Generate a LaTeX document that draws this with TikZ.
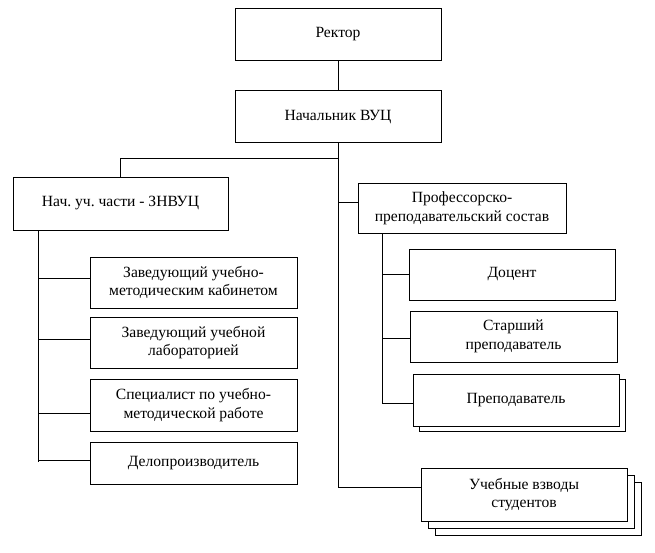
\documentclass[tikz,border=0pt]{standalone}
\usepackage{fontspec}
\setmainfont{Liberation Serif}
\usetikzlibrary{positioning,shadows}
\tikzset{
  unit/.style={draw, fill=white, line width=0.9pt, minimum width=206pt, minimum height=51pt,
               align=center, inner sep=2pt, font=\rmfamily\frenchspacing\fontsize{15.6}{18.5}\selectfont},
  stack/.style={unit, copy shadow={shadow xshift=6pt, shadow yshift=-5.5pt, line width=0.9pt}},
  stack2/.style={unit, copy shadow={shadow xshift=14.5pt, shadow yshift=-14.5pt, line width=0.9pt},
                 copy shadow={shadow xshift=7pt, shadow yshift=-7pt, line width=0.9pt}},
  ln/.style={line width=0.9pt},
}
\begin{document}
\begin{tikzpicture}[x=1pt,y=1pt]
  \useasboundingbox (0,0) rectangle (655,-553);
  \node[unit,minimum height=52pt](rector) at (338,-34){Ректор};
  \node[unit,minimum height=52pt,below=30pt of rector](nach){Начальник ВУЦ};
  \node[unit,minimum width=215pt,minimum height=53pt](znvuc) at (120.5,-203.5){Нач. уч. части - ЗНВУЦ};
  \node[unit,minimum width=208pt,minimum height=50pt](pps) at (462,-208){Профессорско-\\преподавательский состав};
  % left column
  \node[unit,minimum width=207pt](z1) at (193.5,-282.5){Заведующий учебно-\\методическим кабинетом};
  \node[unit,minimum width=207pt](z2) at (193.5,-342.5){Заведующий учебной\\лабораторией};
  \node[unit,minimum width=207pt,minimum height=52pt](z3) at (193.5,-405){Специалист по учебно-\\методической работе};
  \node[unit,minimum width=207pt,minimum height=42pt](z4) at (193.5,-463){Делопроизводитель};
  % right column
  \node[unit](docent) at (512,-274.5){Доцент};
  \node[unit,minimum width=207pt](starsh) at (513.5,-336.5){Старший\\преподаватель};
  \node[stack,minimum height=52pt](prep) at (516,-400){Преподаватель};
  \node[stack2,minimum height=53pt](vzvod) at (524,-494.5){Учебные взводы\\студентов};
  \draw[ln](rector)--(nach);
  \draw[ln](nach.south)-- ++(0,-15) coordinate(fork) -| (znvuc.north);
  \draw[ln](fork) |- ([yshift=7.5pt]vzvod.west);
  \draw[ln]([yshift=6pt]pps.west)--([yshift=6pt]pps.west -| fork);
  \draw[ln]([xshift=26pt]znvuc.south west) coordinate(ltop) -- ([yshift=1pt]ltop |- z4.west);
  \foreach \b/\d in {z1/4.5,z2/3.5,z3/-8,z4/3}
    \draw[ln]([yshift=\d pt]\b.west)--([yshift=\d pt]\b.west -| ltop);
  \draw[ln]([xshift=25pt]pps.south west) coordinate(rtop) -- ([yshift=-4pt]rtop |- prep.west);
  \foreach \b/\d in {docent/0,starsh/-1.5,prep/-3}
    \draw[ln]([yshift=\d pt]\b.west)--([yshift=\d pt]\b.west -| rtop);
\end{tikzpicture}
\end{document}
